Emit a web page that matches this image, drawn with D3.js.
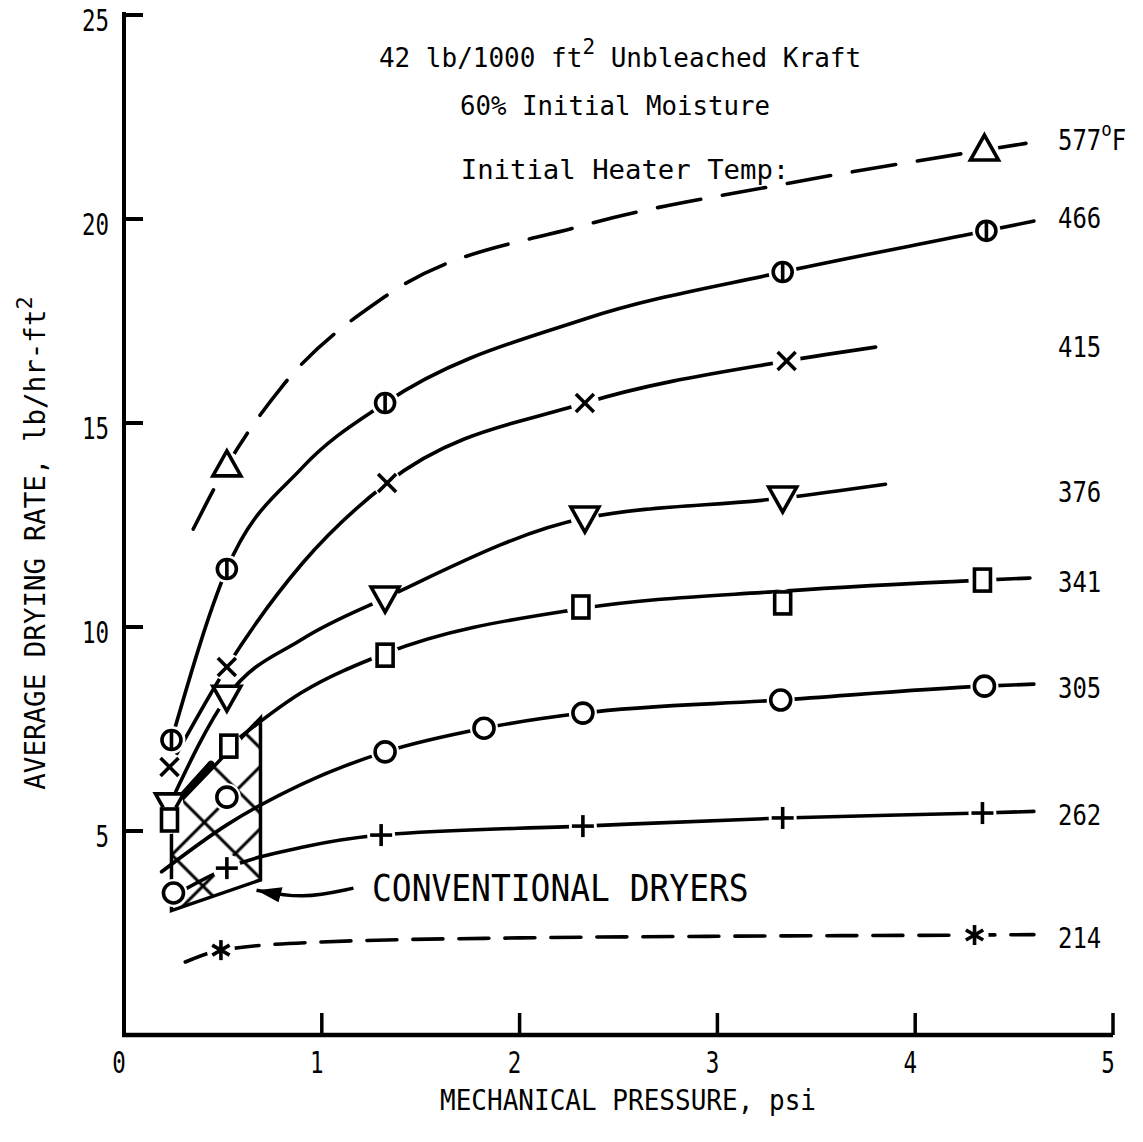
<!DOCTYPE html>
<html><head><meta charset="utf-8">
<script src="https://cdn.jsdelivr.net/npm/d3@7"></script>
<style>html,body{margin:0;padding:0;background:#fff;}svg{display:block;}</style>
</head><body>
<script>
// ---------- data ----------
const xTicks = [0, 1, 2, 3, 4, 5];
const yTicks = [5, 10, 15, 20, 25];
const seriesNames = ['577', '466', '415', '376', '341', '305', '262', '214'];
const seriesMarkers = ['triUp', 'circleBar', 'x', 'triDown', 'square', 'circle', 'plus', 'star'];
const seriesDashed = [true, false, false, false, false, false, false, true];
const labelY = [21.94, 20.02, 16.86, 13.31, 11.1, 8.5, 5.39, 2.39];

const pts577 = [[0.52, 13.95], [4.35, 21.69]];
const fit577 = [[0.35, 12.4], [0.52, 13.95], [0.8, 15.9], [1.32, 18.1], [2.33, 19.85], [3.33, 20.85], [4.35, 21.69], [4.62, 21.9]];
const pts466 = [[0.24, 7.23], [0.52, 11.42], [1.32, 15.49], [3.33, 18.7], [4.36, 19.71]];
const fit466 = [[0.24, 7.23], [0.52, 11.42], [0.9, 13.9], [1.32, 15.49], [2.33, 17.55], [3.33, 18.7], [4.36, 19.71], [4.6, 19.95]];
const pts415 = [[0.23, 6.57], [0.52, 9.02], [1.33, 13.53], [2.33, 15.49], [3.35, 16.52]];
const fit415 = [[0.23, 6.57], [0.52, 9.02], [0.9, 11.55], [1.33, 13.53], [2.33, 15.49], [3.35, 16.52], [3.8, 16.86]];
const pts376 = [[0.23, 5.64], [0.52, 8.28], [1.32, 10.71], [2.33, 12.67], [3.33, 13.16]];
const fit376 = [[0.23, 5.64], [0.52, 8.28], [0.9, 9.7], [1.32, 10.71], [2.33, 12.67], [3.33, 13.16], [3.85, 13.5]];
const pts341 = [[0.23, 5.27], [0.53, 7.08], [1.32, 9.31], [2.31, 10.49], [3.33, 10.59], [4.34, 11.15]];
const fit341 = [[0.53, 7.08], [0.9, 8.4], [1.32, 9.35], [2.31, 10.45], [3.33, 10.88], [4.34, 11.15], [4.58, 11.2]];
const pts305 = [[0.25, 3.48], [0.52, 5.83], [1.32, 6.94], [1.82, 7.52], [2.32, 7.89], [3.32, 8.21], [4.35, 8.55]];
const fit305 = [[0.19, 4.0], [0.52, 5.15], [0.9, 6.15], [1.32, 6.94], [1.82, 7.52], [2.32, 7.89], [3.32, 8.21], [4.35, 8.55], [4.6, 8.6]];
const pts262 = [[0.52, 4.09], [1.30, 4.90], [2.32, 5.12], [3.33, 5.32], [4.34, 5.44]];
const fit262 = [[0.3, 3.55], [0.52, 4.09], [0.9, 4.6], [1.30, 4.9], [2.32, 5.12], [3.33, 5.32], [4.34, 5.44], [4.6, 5.48]];
const pts214 = [[0.49, 2.08], [4.30, 2.45]];
const fit214 = [[0.31, 1.79], [0.49, 2.08], [1.0, 2.28], [2.0, 2.38], [3.0, 2.42], [4.3, 2.45], [4.6, 2.46]];

const regionPts = [[0.24, 3.05], [0.24, 5.5], [0.69, 7.77], [0.69, 3.80]];
const regionThickEdge = [[0.245, 5.59], [0.44, 6.64]];
const arrowPts = [[1.16, 3.6], [0.9, 3.33], [0.67, 3.55]];

const titleLines = ['42 lb/1000 ft', '60% Initial Moisture', 'Initial Heater Temp:'];
const xLabel = 'MECHANICAL PRESSURE, psi';
const yLabel = 'AVERAGE DRYING RATE, lb/hr-ft';
const regionLabel = 'CONVENTIONAL DRYERS';

// ---------- setup ----------
const W = 1143, H = 1142;
const FONT = "'DejaVu Sans Mono', monospace";
const svg = d3.select('body').append('svg').attr('width', W).attr('height', H);
const x = d3.scaleLinear().domain([0, 5]).range([124, 1113]);
const y = d3.scaleLinear().domain([0, 25]).range([1035, 15]);

const fits = [fit577, fit466, fit415, fit376, fit341, fit305, fit262, fit214];
const pts = [pts577, pts466, pts415, pts376, pts341, pts305, pts262, pts214];

function txt(g, px, py, s, size, sx, anchor) {
  return g.append('text')
    .attr('transform', `translate(${px},${py + size * 0.729 / 2}) scale(${sx},1)`)
    .attr('text-anchor', anchor)
    .attr('font-family', FONT).attr('font-size', size).attr('fill', '#000')
    .text(s);
}

// ---------- hatch patterns ----------
const defs = svg.append('defs');
[['h1', 45, 44], ['h2', -45, 46]].forEach(([id, ang, sp]) => {
  const p = defs.append('pattern').attr('id', id).attr('patternUnits', 'userSpaceOnUse')
    .attr('width', sp).attr('height', sp).attr('patternTransform', `rotate(${ang})`);
  p.append('line').attr('x1', sp / 2).attr('x2', sp / 2).attr('y1', 0).attr('y2', sp)
    .attr('stroke', '#000').attr('stroke-width', 3);
});

// ---------- conventional dryers region ----------
const regionLine = d3.line().x(d => x(d[0])).y(d => y(d[1]));
svg.append('path').attr('d', regionLine(regionPts) + 'Z').attr('fill', 'url(#h1)');
svg.append('path').attr('d', regionLine(regionPts) + 'Z').attr('fill', 'url(#h2)');
svg.append('path').attr('d', regionLine(regionPts) + 'Z').attr('fill', 'none')
  .attr('stroke', '#000').attr('stroke-width', 3.5).attr('stroke-linejoin', 'miter');
svg.append('path').attr('d', regionLine(regionThickEdge)).attr('fill', 'none')
  .attr('stroke', '#000').attr('stroke-width', 7).attr('stroke-linecap', 'round');

// ---------- axes ----------
const axisG = svg.append('g');
axisG.append('line').attr('x1', x(0)).attr('x2', x(0)).attr('y1', y(25) - 3).attr('y2', y(0))
  .attr('stroke', '#000').attr('stroke-width', 4);
axisG.append('line').attr('x1', x(0) - 2).attr('x2', x(5)).attr('y1', y(0)).attr('y2', y(0))
  .attr('stroke', '#000').attr('stroke-width', 4.5);
yTicks.forEach(t => {
  axisG.append('line').attr('x1', x(0)).attr('x2', x(0) + 19).attr('y1', y(t)).attr('y2', y(t))
    .attr('stroke', '#000').attr('stroke-width', 4);
  txt(axisG, x(0) - 15, y(t) + 5, String(t), 30, 0.75, 'end');
});
xTicks.forEach(t => {
  if (t > 0) axisG.append('line').attr('x1', x(t)).attr('x2', x(t)).attr('y1', y(0)).attr('y2', y(0) - 22)
    .attr('stroke', '#000').attr('stroke-width', 3.5);
  txt(axisG, x(t) - 5, 1062, String(t), 30, 0.75, 'middle');
});

// axis titles
txt(svg, 628, 1100, xLabel, 28, 0.93, 'middle');
const yl = svg.append('text')
  .attr('transform', `translate(${35 + 10},543) rotate(-90)`)
  .attr('text-anchor', 'middle').attr('font-family', FONT).attr('font-size', 27.5);
yl.append('tspan').text(yLabel);
yl.append('tspan').attr('dy', -13).attr('font-size', 22).text('2');

// title block
const t1 = svg.append('text')
  .attr('transform', `translate(620,${57 + 9.5}) scale(1.0,1)`)
  .attr('text-anchor', 'middle').attr('font-family', FONT).attr('font-size', 26);
t1.append('tspan').text(titleLines[0]);
t1.append('tspan').attr('dy', -13).attr('font-size', 21).text('2');
t1.append('tspan').attr('dy', 13).text(' Unbleached Kraft');
txt(svg, 615, 106, titleLines[1], 26, 0.99, 'middle');
txt(svg, 625, 170, titleLines[2], 26, 1.05, 'middle');

// ---------- curves ----------
const curve = d3.line().x(d => x(d[0])).y(d => y(d[1])).curve(d3.curveMonotoneX);
fits.forEach((f, i) => {
  const p = svg.append('path').attr('d', curve(f)).attr('fill', 'none')
    .attr('stroke', '#000').attr('stroke-width', 3.6).attr('stroke-linecap', 'round');
  if (seriesDashed[i]) p.attr('stroke-dasharray', i === 0 ? '44 22' : '30 16');
});

// ---------- arrow ----------
const arrowLine = d3.line().x(d => x(d[0])).y(d => y(d[1])).curve(d3.curveBasis);
svg.append('path').attr('d', arrowLine(arrowPts)).attr('fill', 'none').attr('stroke', '#000').attr('stroke-width', 3.5);
{
  const tip = [x(arrowPts[2][0]), y(arrowPts[2][1])];
  svg.append('path').attr('d', `M${tip[0]},${tip[1]} L${tip[0] + 26},${tip[1] - 3} L${tip[0] + 22},${tip[1] + 12} Z`)
    .attr('fill', '#000');
}

// ---------- markers ----------
function drawMarker(g, type) {
  const sw = 3.6;
  const st = s => s.attr('stroke', '#000').attr('stroke-width', sw).attr('fill', 'none');
  if (type === 'triUp') st(g.append('path').attr('d', 'M0,-15 L14,10 L-14,10 Z')).attr('fill', '#fff');
  else if (type === 'triDown') st(g.append('path').attr('d', 'M0,14 L14,-11 L-14,-11 Z')).attr('fill', '#fff');
  else if (type === 'circle') st(g.append('circle').attr('r', 10)).attr('fill', '#fff');
  else if (type === 'circleBar') {
    st(g.append('circle').attr('r', 9.5)).attr('fill', '#fff');
    st(g.append('line').attr('x1', 0).attr('x2', 0).attr('y1', -9).attr('y2', 9));
  } else if (type === 'square') st(g.append('rect').attr('x', -8).attr('y', -11).attr('width', 16).attr('height', 22)).attr('fill', '#fff');
  else if (type === 'x') {
    st(g.append('line').attr('x1', -9).attr('y1', -9).attr('x2', 9).attr('y2', 9));
    st(g.append('line').attr('x1', -9).attr('y1', 9).attr('x2', 9).attr('y2', -9));
  } else if (type === 'plus') {
    st(g.append('line').attr('x1', -11).attr('y1', 0).attr('x2', 11).attr('y2', 0));
    st(g.append('line').attr('x1', 0).attr('y1', -11).attr('x2', 0).attr('y2', 11));
  } else if (type === 'star') {
    [90, 30, -30].forEach(a => {
      const r = 10, c = Math.cos(a * Math.PI / 180) * r, s = Math.sin(a * Math.PI / 180) * r;
      st(g.append('line').attr('x1', -c).attr('y1', -s).attr('x2', c).attr('y2', s));
    });
  }
}
pts.forEach((ps, i) => {
  ps.forEach(d => {
    const g = svg.append('g').attr('transform', `translate(${x(d[0])},${y(d[1])})`);
    g.append('circle').attr('r', 14).attr('fill', '#fff');
    drawMarker(g, seriesMarkers[i]);
  });
});

// ---------- right labels ----------
seriesNames.forEach((n, i) => {
  if (i === 0) {
    const t = svg.append('text')
      .attr('transform', `translate(1058,${y(labelY[i]) + 10}) scale(0.87,1)`)
      .attr('font-family', FONT).attr('font-size', 27.5);
    t.append('tspan').text(n);
    t.append('tspan').attr('dy', -14).attr('font-size', 20).text('o');
    t.append('tspan').attr('dy', 14).text('F');
  } else {
    txt(svg, 1058, y(labelY[i]), n, 27.5, 0.87, 'start');
  }
});

// region label
txt(svg, 372, 888, regionLabel, 37, 0.89, 'start');
</script>
</body></html>
